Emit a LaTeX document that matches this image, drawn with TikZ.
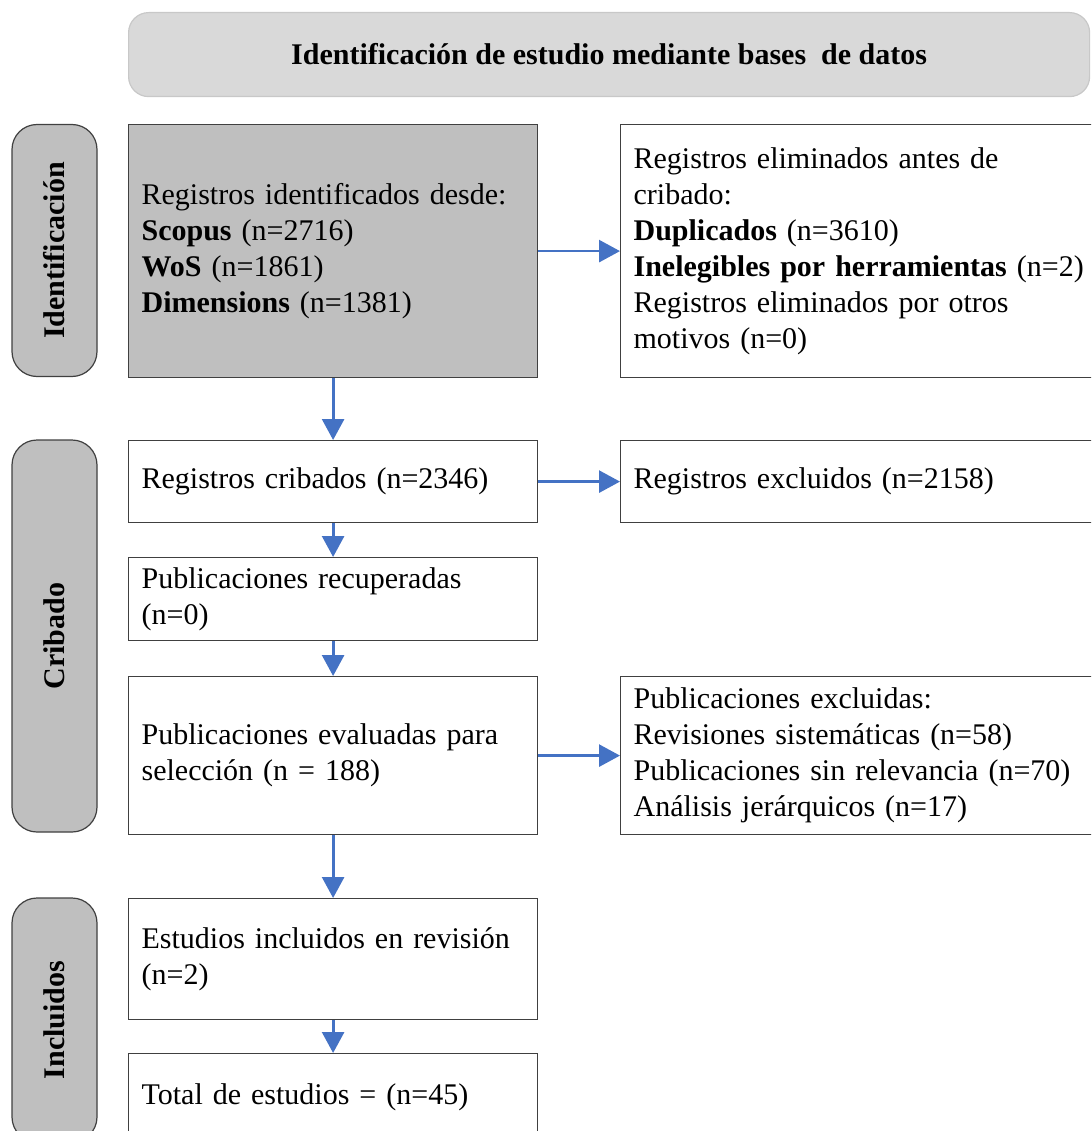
\documentclass[tikz,border=0pt]{standalone}
\usepackage{fontspec}
\setmainfont{Liberation Serif}
\usetikzlibrary{arrows.meta}
\definecolor{hdrfill}{HTML}{D9D9D9}
\definecolor{hdrline}{HTML}{C8C8C8}
\definecolor{boxgray}{HTML}{BFBFBF}
\definecolor{edge}{HTML}{404040}
\definecolor{flow}{HTML}{4472C4}

\begin{document}
\begin{tikzpicture}[x=1pt,y=-1pt,
  every node/.style={font=\fontsize{30}{36}\selectfont},
  stepbox/.style={draw=edge, line width=1.2pt, rectangle, anchor=north west,
    inner xsep=13pt, inner ysep=0pt, align=left},
  leftbox/.style={stepbox, text width=383pt},
  rightbox/.style={stepbox, text width=474pt},
  phase/.style={draw=edge, line width=1.2pt, fill=boxgray, rounded corners=25pt,
    rotate=90, minimum height=85pt, inner sep=0pt,
    font=\fontsize{30}{36}\selectfont\bfseries},
  header/.style={draw=hdrline, line width=1.2pt, fill=hdrfill, rounded corners=20pt,
    anchor=north west, inner sep=0pt,
    font=\fontsize{30}{36}\selectfont\bfseries},
  flowarrow/.style={draw=flow, line width=2.8pt,
    -{Triangle[length=21pt,width=22pt]}}
]
\useasboundingbox (0,0) rectangle (1091,1131);
\clip (0,0) rectangle (1091,1131);

% title bar
\node[header, minimum width=961pt, minimum height=84pt] (title) at (128,12)
  {Identificación de estudio mediante bases\ \ de datos};

% phase labels
\node[phase, minimum width=252pt] (ph1) at (54.5,250.5) {Identificación};
\node[phase, minimum width=392pt] (ph2) at (54.5,636) {Cribado};
\node[phase, minimum width=244pt] (ph3) at (54.5,1020) {Incluidos};

% main column
\node[leftbox, fill=boxgray, minimum height=253pt] (b1) at (128,124)
  {Registros identificados desde:\\
   \textbf{Scopus} (n=2716)\\
   \textbf{WoS} (n=1861)\\
   \textbf{Dimensions} (n=1381)};
\node[leftbox, minimum height=82pt] (b2) at (128,440)
  {Registros cribados (n=2346)};
\node[leftbox, minimum height=83pt] (b3) at (128,557)
  {Publicaciones recuperadas\\ (n=0)};
\node[leftbox, minimum height=158pt] (b4) at (128,676)
  {Publicaciones evaluadas para\\ selección (n = 188)};
\node[leftbox, minimum height=121pt] (b5) at (128,898)
  {Estudios incluidos en revisión\\ (n=2)};
\node[leftbox, minimum height=88pt] (b6) at (128,1053)
  {Total de estudios = (n=45)};

% side column
\node[rightbox, minimum height=253pt] (r1) at (620,124)
  {Registros eliminados antes de\\ cribado:\\
   \textbf{Duplicados} (n=3610)\\
   \textbf{Inelegibles por herramientas} (n=2)\\
   Registros eliminados por otros\\ motivos (n=0)};
\node[rightbox, minimum height=82pt] (r2) at (620,440)
  {Registros excluidos (n=2158)};
\node[rightbox, minimum height=158pt] (r3) at (620,676)
  {Publicaciones excluidas:\\
   Revisiones sistemáticas (n=58)\\
   Publicaciones sin relevancia (n=70)\\
   Análisis jerárquicos (n=17)};

% connectors
\draw[flowarrow] (b1.east) -- (r1.west);
\draw[flowarrow] (b2.east) -- (r2.west);
\draw[flowarrow] (b4.east) -- (r3.west);
\draw[flowarrow] (b1.south) -- (b2.north);
\draw[flowarrow] (b2.south) -- (b3.north);
\draw[flowarrow] (b3.south) -- (b4.north);
\draw[flowarrow] (b4.south) -- (b5.north);
\draw[flowarrow] (b5.south) -- (b6.north);
\end{tikzpicture}
\end{document}
